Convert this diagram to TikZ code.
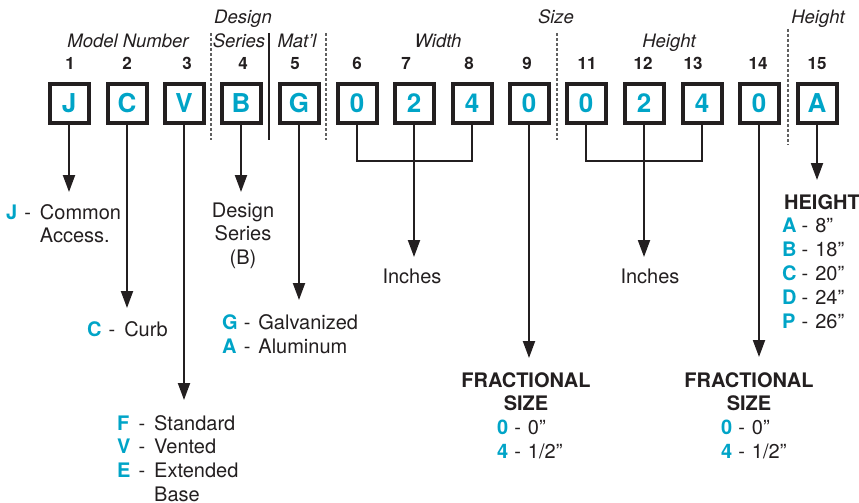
\documentclass[tikz,border=0pt]{standalone}
\usepackage{fontspec}
\setmainfont{TeX Gyre Heros}
\usetikzlibrary{arrows.meta}
\definecolor{cy}{RGB}{0,164,199}
\definecolor{ink}{RGB}{35,31,32}
\newcommand\mydash[2]{\kern#1-\kern#2\relax}
\newcommand\cyl[1]{\textcolor{cy}{\bfseries #1}}
\begin{document}
\begin{tikzpicture}[x=1pt,y=-1pt,
  codebox/.style={draw=ink,line width=4pt,minimum size=39pt,inner sep=0pt,
    text height=18.7pt,text depth=0pt,font=\fontsize{26}{30}\selectfont\bfseries,text=cy},
  num/.style={anchor=base,inner sep=0pt,font=\fontsize{17}{20}\selectfont\bfseries,text=ink},
  ttl/.style={anchor=base,inner sep=0pt,font=\fontsize{18.5}{21}\selectfont\itshape,text=ink},
  desc/.style={inner sep=0pt,font=\fontsize{20}{23.7}\selectfont,text=ink},
  arr/.style={draw=ink,line width=2pt,-{Triangle[length=17pt,width=12pt]}},
  brk/.style={draw=ink,line width=2pt,line join=miter},
  sepd/.style={draw=gray!75!black,line width=1.2pt,dash pattern=on 3pt off 2pt},
  seps/.style={draw=ink,line width=1.2pt},
]
\useasboundingbox (0,0) rectangle (859,503);

% titles
\node[ttl] (tDesign) at (243,24) {Design};
\node[ttl] (tSize) at (556,24) {Size};
\node[ttl] (tHeightR) at (818,24) {Height};
\node[ttl] (tModel) at (128,47.5) {Model Number};
\node[ttl] (tSeries) at (239,47.5) {Series};
\node[ttl] (tMat) at (297,47.5) {Mat’l};
\node[ttl] (tWidth) at (438,47.5) {Width};
\node[ttl] (tHeightM) at (669,47.5) {Height};

% position numbers
\node[num] (n1) at (70,69.5) {1};
\node[num] (n2) at (127,69.5) {2};
\node[num] (n3) at (187,69.5) {3};
\node[num] (n4) at (243,69.5) {4};
\node[num] (n5) at (295,69.5) {5};
\node[num] (n6) at (357,69.5) {6};
\node[num] (n7) at (406,69.5) {7};
\node[num] (n8) at (469,69.5) {8};
\node[num] (n9) at (527,69.5) {9};
\node[num] (n11) at (587,69.5) {11};
\node[num] (n12) at (643,69.5) {12};
\node[num] (n13) at (693,69.5) {13};
\node[num] (n14) at (758,69.5) {14};
\node[num] (n15) at (817,69.5) {15};

% separators
\draw[sepd] (211,33) -- (211,140);
\draw[seps] (269,33) -- (269,140);
\draw[sepd] (326,33) -- (326,140);
\draw[sepd] (557,33) -- (557,140);
\draw[sepd] (788,29) -- (788,145);

% code boxes
\node[codebox] (b1) at (69,103.5) {J};
\node[codebox] (b2) at (127,103.5) {C};
\node[codebox] (b3) at (184,103.5) {V};
\node[codebox] (b4) at (241,103.5) {B};
\node[codebox] (b5) at (299,103.5) {G};
\node[codebox] (b6) at (357,103.5) {0};
\node[codebox] (b7) at (414,103.5) {2};
\node[codebox] (b8) at (472,103.5) {4};
\node[codebox] (b9) at (529,103.5) {0};
\node[codebox] (b11) at (586,103.5) {0};
\node[codebox] (b12) at (644,103.5) {2};
\node[codebox] (b13) at (702,103.5) {4};
\node[codebox] (b14) at (759,103.5) {0};
\node[codebox] (b15) at (817,103.5) {A};

% arrow tips and joins
\coordinate (t1) at (69,192);
\coordinate (t2) at (127,308);
\coordinate (t3) at (184,400);
\coordinate (t4) at (241,192);
\coordinate (t5) at (299,300);
\coordinate (wj) at (414,161);
\coordinate (tw) at (414,257);
\coordinate (t9) at (529,358);
\coordinate (hj) at (644,161);
\coordinate (th) at (644,257);
\coordinate (t14) at (759,357);
\coordinate (t15) at (817,180);

\draw[arr] (b1.south) -- (t1);
\draw[arr] (b2.south) -- (t2);
\draw[arr] (b3.south) -- (t3);
\draw[arr] (b4.south) -- (t4);
\draw[arr] (b5.south) -- (t5);
\draw[brk] (b6.south) |- (wj) -| (b8.south);
\draw[arr] (b7.south) -- (tw);
\draw[arr] (b9.south) -- (t9);
\draw[brk] (b11.south) |- (hj) -| (b13.south);
\draw[arr] (b12.south) -- (th);
\draw[arr] (b14.south) -- (t14);
\draw[arr] (b15.south) -- (t15);

% descriptions
\node[desc,anchor=base west] (dJ) at (6,219)
  {\begin{tabular}[t]{@{}l@{}l@{}}\cyl{J}&\mydash{7pt}{9pt}Common\\&\hphantom{\mydash{7pt}{9pt}}Access.\end{tabular}};
\node[desc,anchor=base west] (dC) at (87,336)
  {\cyl{C}\mydash{7pt}{9pt}Curb};
\node[desc,anchor=base west] (dF) at (117,430)
  {\begin{tabular}[t]{@{}l@{}l@{}l@{}}\cyl{F}&\mydash{8pt}{9pt}&Standard\\
   \cyl{V}&\mydash{8pt}{9pt}&Vented\\
   \cyl{E}&\mydash{8pt}{9pt}&Extended\\
   &&Base\end{tabular}};
\node[desc,anchor=base] (dB) at (243,217)
  {\begin{tabular}[t]{@{}c@{}}Design\\Series\\(B)\end{tabular}};
\node[desc,anchor=base west,font=\fontsize{20}{24}\selectfont] (dG) at (222,329)
  {\begin{tabular}[t]{@{}l@{}l@{}}\cyl{G}&\mydash{6pt}{8pt}Galvanized\\
   \cyl{A}&\mydash{6pt}{8pt}Aluminum\end{tabular}};
\node[desc,anchor=base] (dW) at (412,283) {Inches};
\node[desc,anchor=base] (dH) at (650,283) {Inches};

\node[desc,anchor=base,font=\fontsize{20}{23.6}\selectfont\bfseries] (f1) at (526,387)
  {\begin{tabular}[t]{@{}c@{}}FRACTIONAL\\SIZE\end{tabular}};
\node[desc,anchor=base west,font=\fontsize{20}{23.5}\selectfont] (v1) at (497,434.5)
  {\begin{tabular}[t]{@{}l@{}l@{}}\cyl{0}&\mydash{6pt}{7pt}0”\\
   \cyl{4}&\mydash{6pt}{7pt}1/2”\end{tabular}};
\node[desc,anchor=base,font=\fontsize{20}{23.6}\selectfont\bfseries] (f2) at (749,387)
  {\begin{tabular}[t]{@{}c@{}}FRACTIONAL\\SIZE\end{tabular}};
\node[desc,anchor=base west,font=\fontsize{20}{23.5}\selectfont] (v2) at (721,434.5)
  {\begin{tabular}[t]{@{}l@{}l@{}}\cyl{0}&\mydash{6pt}{7pt}0”\\
   \cyl{4}&\mydash{6pt}{7pt}1/2”\end{tabular}};

\node[desc,anchor=base west,font=\fontsize{20}{23.8}\selectfont] (dA) at (782,209)
  {\begin{tabular}[t]{@{}l@{}l@{}}\multicolumn{2}{@{\kern2pt}l@{}}{\bfseries HEIGHT}\\
   \cyl{A}&\mydash{5pt}{7pt}8”\\
   \cyl{B}&\mydash{5pt}{7pt}18”\\
   \cyl{C}&\mydash{5pt}{7pt}20”\\
   \cyl{D}&\mydash{5pt}{7pt}24”\\
   \cyl{P}&\mydash{5pt}{7pt}26”\end{tabular}};
\end{tikzpicture}
\end{document}
